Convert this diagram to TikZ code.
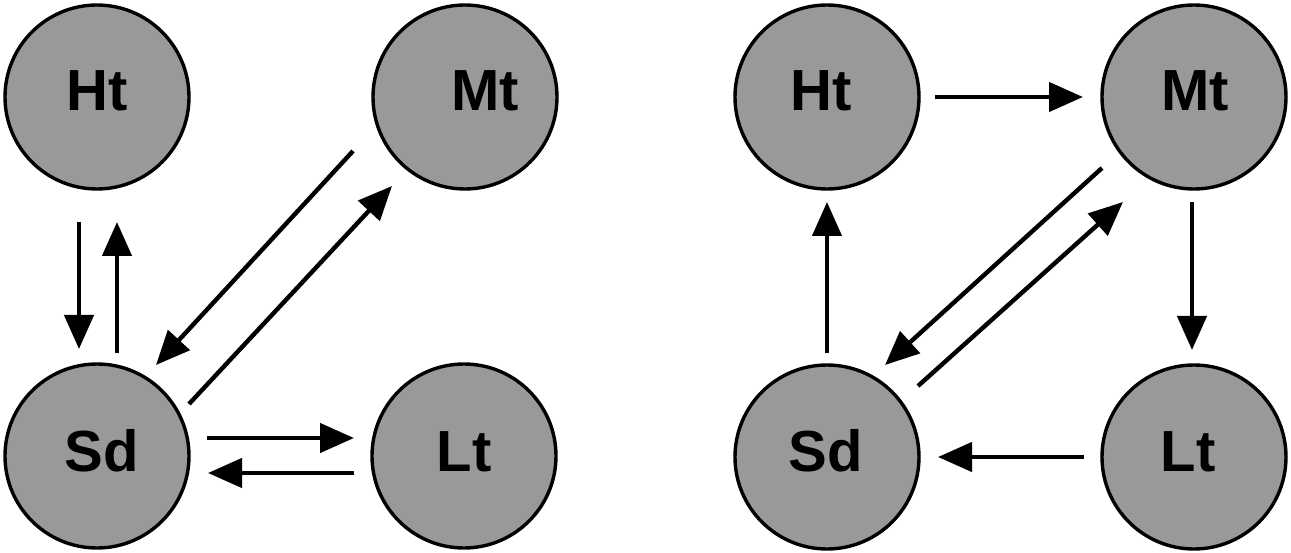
\documentclass[tikz,border=0pt]{standalone}
\usepackage{fontspec}
\setmainfont{Liberation Sans}
\usetikzlibrary{arrows.meta,calc}
\tikzset{
  state/.style={circle, draw=black, line width=3.4pt, fill=black!40,
                minimum size=184pt, inner sep=0pt},
  tag/.style={anchor=base, inner sep=0pt,
              font=\fontsize{58}{58}\selectfont\bfseries},
  arr/.style={line width=4.4pt, -{Triangle[length=34pt,width=29pt]}}
}
\begin{document}
\begin{tikzpicture}[x=1pt, y=-1pt]
\useasboundingbox (0,0) rectangle (1291,553);

% ---- left cycle ----
\node[state] (HtL) at (97,97) {};
\node[state] (MtL) at (465,97) {};
\node[state] (SdL) at (97,456) {};
\node[state] (LtL) at (464,456) {};
\node[tag] (tHtL) at ($(HtL)+(0,14)$) {Ht};
\node[tag] (tMtL) at ($(MtL)+(20,14)$) {Mt};
\node[tag] (tSdL) at ($(SdL)+(5,15)$) {Sd};
\node[tag] (tLtL) at ($(LtL)+(0,15)$) {Lt};

\draw[arr] ($(HtL)+(-18,125)$) -- ($(SdL)+(-18,-107)$);
\draw[arr] ($(SdL)+(20,-103)$) -- ($(HtL)+(20,125)$);
\draw[arr] ($(MtL)+(-112,54)$) -- ($(SdL)+(59,-91)$);
\draw[arr] ($(SdL)+(92,-52)$) -- ($(MtL)+(-73,89)$);
\draw[arr] ($(SdL)+(110,-18)$) -- ($(LtL)+(-110,-18)$);
\draw[arr] ($(LtL)+(-110,17)$) -- ($(SdL)+(111,17)$);

% ---- right cycle ----
\node[state] (HtR) at (827,97) {};
\node[state] (MtR) at (1194,97) {};
\node[state] (SdR) at (827,457) {};
\node[state] (LtR) at (1194,457) {};
\node[tag] (tHtR) at ($(HtR)+(-6,14)$) {Ht};
\node[tag] (tMtR) at ($(MtR)+(1,14)$) {Mt};
\node[tag] (tSdR) at ($(SdR)+(-1,14)$) {Sd};
\node[tag] (tLtR) at ($(LtR)+(-6,14)$) {Lt};

\draw[arr] ($(HtR)+(108,0)$) -- ($(MtR)+(-111,0)$);
\draw[arr] ($(MtR)+(-2,105)$) -- ($(LtR)+(-2,-107)$);
\draw[arr] ($(LtR)+(-110,0)$) -- ($(SdR)+(111,0)$);
\draw[arr] ($(SdR)+(0,-104)$) -- ($(HtR)+(0,105)$);
\draw[arr] ($(MtR)+(-92,71)$) -- ($(SdR)+(58,-92)$);
\draw[arr] ($(SdR)+(91,-71)$) -- ($(MtR)+(-71,105)$);
\end{tikzpicture}
\end{document}
